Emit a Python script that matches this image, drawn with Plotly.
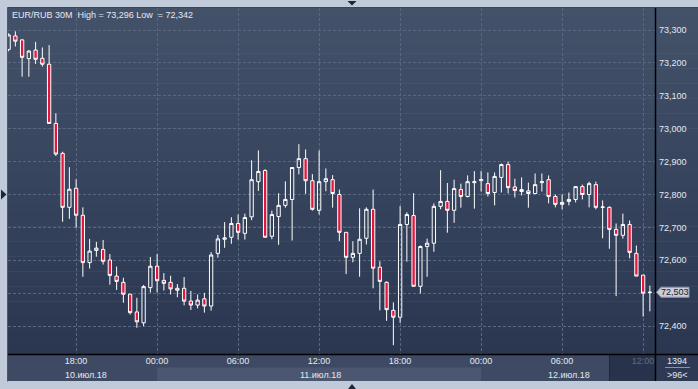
import plotly.graph_objects as go
import pandas as pd

# ---------------- data ----------------
start_time = "2018-07-10 13:00"
n_candles = 96
open_ = [73.241, 73.282, 73.270, 73.213, 73.239, 73.214, 73.196, 73.016, 72.925, 72.761,
         72.819, 72.737, 72.593, 72.630, 72.633, 72.601, 72.552, 72.533, 72.497, 72.443,
         72.410, 72.517, 72.582, 72.539, 72.533, 72.509, 72.515, 72.476, 72.464, 72.483,
         72.461, 72.621, 72.664, 72.670, 72.712, 72.682, 72.732, 72.839, 72.873, 72.673,
         72.733, 72.767, 72.785, 72.882, 72.909, 72.842, 72.752, 72.839, 72.845, 72.800,
         72.685, 72.609, 72.621, 72.667, 72.755, 72.579, 72.533, 72.448, 72.427, 72.709,
         72.736, 72.521, 72.642, 72.652, 72.764, 72.779, 72.752, 72.815, 72.794, 72.836,
         72.842, 72.833, 72.806, 72.852, 72.891, 72.823, 72.809, 72.811, 72.803, 72.836,
         72.845, 72.794, 72.770, 72.779, 72.785, 72.824, 72.800, 72.830, 72.761, 72.761,
         72.694, 72.676, 72.709, 72.621, 72.555, 72.502]
high = [73.290, 73.296, 73.272, 73.239, 73.264, 73.247, 73.254, 73.047, 72.930, 72.883,
        72.846, 72.761, 72.665, 72.656, 72.662, 72.619, 72.581, 72.547, 72.497, 72.486,
        72.525, 72.610, 72.619, 72.561, 72.553, 72.528, 72.549, 72.507, 72.496, 72.501,
        72.625, 72.677, 72.716, 72.731, 72.739, 72.742, 72.904, 72.934, 72.877, 72.751,
        72.804, 72.840, 72.882, 72.953, 72.937, 72.862, 72.934, 72.879, 72.859, 72.815,
        72.685, 72.658, 72.758, 72.761, 72.815, 72.597, 72.536, 72.472, 72.765, 72.746,
        72.804, 72.645, 72.666, 72.773, 72.874, 72.835, 72.845, 72.833, 72.858, 72.871,
        72.871, 72.867, 72.867, 72.894, 72.900, 72.848, 72.852, 72.836, 72.864, 72.864,
        72.858, 72.800, 72.800, 72.806, 72.824, 72.830, 72.839, 72.839, 72.782, 72.764,
        72.712, 72.742, 72.721, 72.645, 72.555, 72.523]
low = [73.235, 73.250, 73.158, 73.158, 73.197, 73.189, 73.016, 72.917, 72.717, 72.726,
       72.699, 72.550, 72.575, 72.611, 72.587, 72.526, 72.510, 72.471, 72.435, 72.395,
       72.400, 72.502, 72.502, 72.508, 72.496, 72.488, 72.463, 72.449, 72.454, 72.441,
       72.447, 72.608, 72.638, 72.650, 72.663, 72.663, 72.722, 72.811, 72.670, 72.664,
       72.647, 72.760, 72.660, 72.861, 72.802, 72.751, 72.739, 72.810, 72.760, 72.658,
       72.558, 72.594, 72.550, 72.648, 72.515, 72.448, 72.416, 72.342, 72.410, 72.596,
       72.521, 72.499, 72.550, 72.626, 72.755, 72.684, 72.714, 72.760, 72.791, 72.757,
       72.809, 72.794, 72.767, 72.806, 72.803, 72.791, 72.797, 72.760, 72.801, 72.809,
       72.773, 72.761, 72.755, 72.767, 72.776, 72.785, 72.761, 72.755, 72.667, 72.635,
       72.491, 72.666, 72.606, 72.552, 72.429, 72.445]
close = [73.285, 73.266, 73.217, 73.236, 73.211, 73.196, 73.016, 72.923, 72.761, 72.816,
         72.737, 72.593, 72.628, 72.637, 72.597, 72.554, 72.536, 72.497, 72.441, 72.413,
         72.520, 72.582, 72.538, 72.530, 72.513, 72.515, 72.476, 72.464, 72.479, 72.461,
         72.616, 72.665, 72.668, 72.712, 72.685, 72.730, 72.845, 72.870, 72.670, 72.739,
         72.767, 72.785, 72.882, 72.909, 72.842, 72.755, 72.839, 72.848, 72.803, 72.685,
         72.609, 72.621, 72.664, 72.755, 72.576, 72.536, 72.450, 72.427, 72.709, 72.739,
         72.521, 72.642, 72.652, 72.764, 72.779, 72.752, 72.818, 72.794, 72.839, 72.839,
         72.845, 72.803, 72.855, 72.891, 72.821, 72.812, 72.815, 72.803, 72.830, 72.839,
         72.794, 72.770, 72.776, 72.785, 72.824, 72.800, 72.833, 72.761, 72.762, 72.694,
         72.676, 72.709, 72.624, 72.552, 72.500, 72.503]

tick_times = ["2018-07-10 18:00", "2018-07-11 00:00", "2018-07-11 06:00", "2018-07-11 12:00",
              "2018-07-11 18:00", "2018-07-12 00:00", "2018-07-12 06:00", "2018-07-12 12:00"]
tick_labels = ["18:00", "00:00", "06:00", "12:00", "18:00", "00:00", "06:00", "12:00"]
date_label_times = ["2018-07-10 18:45", "2018-07-11 12:04", "2018-07-12 06:30"]
date_labels = ["10.июл.18", "11.июл.18", "12.июл.18"]
price_ticks = [72.4, 72.5, 72.6, 72.7, 72.8, 72.9, 73.0, 73.1, 73.2, 73.3]
symbol = "EUR/RUB 30M"
bars_counter = "1394"

times = pd.date_range(start_time, periods=n_candles, freq="30min")

# ---------------- geometry helpers ----------------
W, H = 698, 389
ML, MR, MT, MB = 8, 43, 8, 35
PW = W - ML - MR
PH = H - MT - MB
def px(x):
    return (x - ML) / PW
def py(y):
    return (H - MB - y) / PH

FONT = "Liberation Sans, Arial, sans-serif"
TXT = "#e4e9f1"

def fmt(v):
    return f"{v:.3f}".replace(".", ",")

fig = go.Figure()
fig.add_trace(go.Candlestick(
    x=times, open=open_, high=high, low=low, close=close,
    increasing=dict(line=dict(color="#ffffff", width=1), fillcolor="rgba(0,0,0,0)"),
    decreasing=dict(line=dict(color="#ffffff", width=1), fillcolor="#e3173e"),
    whiskerwidth=0, hoverinfo="skip", showlegend=False,
))

last = close[-1]

shapes = []
# gradient background for plot + price axis
top_c = (67, 81, 105)
bot_c = (43, 55, 81)
nb = 46
y_top, y_bot = 8, 354
for k in range(nb):
    t = k / (nb - 1)
    c = tuple(round(top_c[j] + (bot_c[j] - top_c[j]) * t) for j in range(3))
    ya = y_top + (y_bot - y_top) * k / nb
    yb = y_top + (y_bot - y_top) * (k + 1) / nb
    shapes.append(dict(type="rect", xref="paper", yref="paper", layer="below",
                       x0=px(8), x1=px(698), y0=py(yb + 0.5), y1=py(ya),
                       fillcolor="rgb(%d,%d,%d)" % c, line=dict(width=0)))
# time-axis panel
shapes.append(dict(type="rect", xref="paper", yref="paper", layer="below",
                   x0=px(8), x1=px(655), y0=py(381), y1=py(354),
                   fillcolor="#3e4a63", line=dict(width=0)))
# day band for 11 July (lower row)
shapes.append(dict(type="rect", xref="x", yref="paper", layer="below",
                   x0="2018-07-11 00:00", x1="2018-07-12 00:00", y0=py(381), y1=py(367.5),
                   fillcolor="#4b5771", line=dict(width=0)))
# current-session dark region
shapes.append(dict(type="rect", xref="paper", yref="paper", layer="below",
                   x0=px(609), x1=px(655), y0=py(381), y1=py(354),
                   fillcolor="#28334b", line=dict(width=0)))
shapes.append(dict(type="line", xref="paper", yref="paper", layer="below",
                   x0=px(609.5), x1=px(609.5), y0=py(381), y1=py(354),
                   line=dict(color="#1f283b", width=1)))
# bottom-right box
shapes.append(dict(type="rect", xref="paper", yref="paper", layer="below",
                   x0=px(655), x1=px(698), y0=py(381), y1=py(354),
                   fillcolor="#2e3954", line=dict(width=0)))
shapes.append(dict(type="line", xref="paper", yref="paper",
                   x0=px(665), x1=px(690), y0=py(367.5), y1=py(367.5),
                   line=dict(color="#8a94a8", width=1)))
# black axis lines
shapes.append(dict(type="line", xref="paper", yref="paper",
                   x0=px(655.5), x1=px(655.5), y0=py(381), y1=py(8),
                   line=dict(color="#000000", width=1.5)))
shapes.append(dict(type="line", xref="paper", yref="paper",
                   x0=px(8), x1=px(698), y0=py(354.5), y1=py(354.5),
                   line=dict(color="#000000", width=1.5)))
# frame borders
shapes.append(dict(type="line", xref="paper", yref="paper",
                   x0=px(7.5), x1=px(7.5), y0=py(381.5), y1=py(7.5),
                   line=dict(color="#4d5870", width=1)))
shapes.append(dict(type="line", xref="paper", yref="paper",
                   x0=px(7.5), x1=px(698), y0=py(7.5), y1=py(7.5),
                   line=dict(color="#3a4560", width=1)))
# small arrows
def tri(pts, color="#1d2639"):
    d = "M " + " L ".join(f"{px(a)},{py(b)}" for a, b in pts) + " Z"
    return dict(type="path", xref="paper", yref="paper", path=d,
                fillcolor=color, line=dict(width=0))
shapes.append(tri([(347.5, 1), (356.5, 1), (352, 5.5)]))
shapes.append(tri([(348, 389), (356, 389), (352, 384)]))
shapes.append(tri([(1, 189.5), (1, 199.5), (6.5, 194.5)]))
# last price label
hh = 5 / 329.0
path = (f"M {px(656.5)},{last} L {px(661)},{last + hh} L {px(689)},{last + hh} "
        f"L {px(689)},{last - hh} L {px(661)},{last - hh} Z")
shapes.append(dict(type="path", xref="paper", yref="y", path=path,
                   fillcolor="#c9ced8", line=dict(color="#8e97a8", width=1)))

annotations = []
annotations.append(dict(xref="paper", yref="paper", x=px(10), y=py(15),
                        xanchor="left", yanchor="middle", showarrow=False,
                        text=f"{symbol}  High = {fmt(max(high))} Low  = {fmt(min(low))}",
                        font=dict(family=FONT, size=9, color=TXT)))
for t, lab in zip(date_label_times, date_labels):
    annotations.append(dict(xref="x", yref="paper", x=t, y=py(374.5),
                            xanchor="center", yanchor="middle", showarrow=False,
                            text=lab, font=dict(family=FONT, size=9, color=TXT)))
annotations.append(dict(xref="paper", yref="y", x=px(674.5), y=last,
                        xanchor="center", yanchor="middle", showarrow=False,
                        text=fmt(last), font=dict(family=FONT, size=9, color="#18202f")))
annotations.append(dict(xref="paper", yref="paper", x=px(677), y=py(361),
                        xanchor="center", yanchor="middle", showarrow=False,
                        text=bars_counter, font=dict(family=FONT, size=9, color=TXT)))
annotations.append(dict(xref="paper", yref="paper", x=px(677), y=py(374.5),
                        xanchor="center", yanchor="middle", showarrow=False,
                        text=f"&gt;{n_candles}&lt;", font=dict(family=FONT, size=9, color=TXT)))

ticktext = list(tick_labels)
ticktext[-1] = f"<span style='color:#5f6b83'>{ticktext[-1]}</span>"

# price tick labels; the one hidden behind the last-price marker is left blank
price_ticktext = ["" if abs(v - last) < 0.02 else fmt(v) for v in price_ticks]

x0 = times[0] - pd.Timedelta(minutes=2.7)
x1 = times[-1] + pd.Timedelta(minutes=22.8)

fig.update_layout(
    width=W, height=H,
    margin=dict(l=ML, r=MR, t=MT, b=MB, pad=0),
    paper_bgcolor="#c0cad8",
    plot_bgcolor="rgba(0,0,0,0)",
    separators=", ",
    showlegend=False,
    shapes=shapes,
    annotations=annotations,
    xaxis=dict(type="date", range=[x0, x1], rangeslider=dict(visible=False),
               tickmode="array", tickvals=tick_times, ticktext=ticktext,
               showgrid=True, gridcolor="#5a6781", gridwidth=1, griddash="3px,2px",
               ticks="", zeroline=False, showline=False,
               tickfont=dict(family=FONT, size=9, color=TXT), fixedrange=True),
    yaxis=dict(side="right", range=[72.3152, 73.3669], tickmode="array",
               tickvals=price_ticks, ticktext=price_ticktext,
               showgrid=True, gridcolor="#5a6781", gridwidth=1, griddash="3px,2px",
               ticks="", zeroline=False, showline=False, ticklabelstandoff=3,
               tickfont=dict(family=FONT, size=9, color=TXT), fixedrange=True),
)

fig.write_html("out.html")
